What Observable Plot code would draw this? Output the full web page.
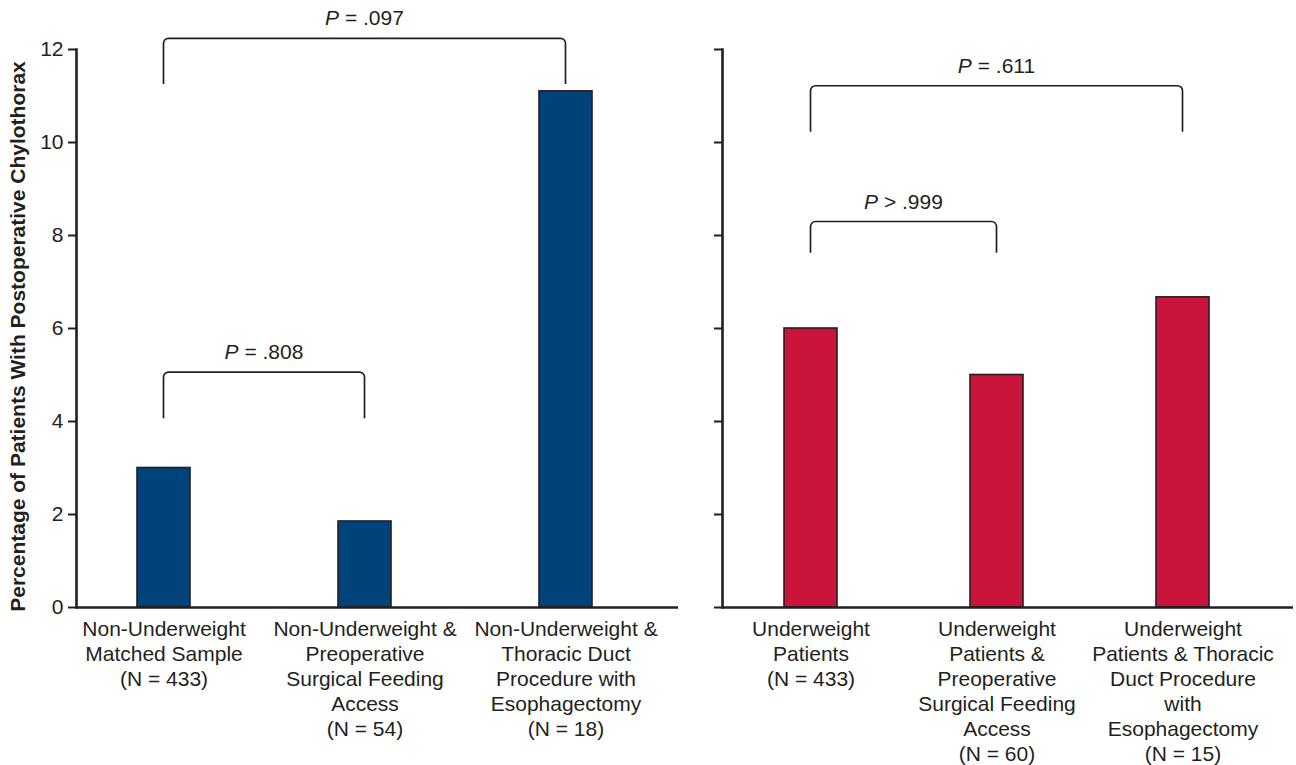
<!DOCTYPE html>
<html>
<head>
<meta charset="utf-8">
<script src="https://cdn.jsdelivr.net/npm/d3@7"></script>
<script src="https://cdn.jsdelivr.net/npm/@observablehq/plot@0.6"></script>
<style>
  html, body { margin: 0; padding: 0; background: white; }
  #fig { display: flex; flex-direction: row; width: 1296px; height: 765px; }
  #fig svg { max-width: none !important; }
</style>
</head>
<body>
<div id="fig"></div>
<script>
// ---- Data ----
const leftGroups = [
  "Non-Underweight\nMatched Sample\n(N = 433)",
  "Non-Underweight &\nPreoperative\nSurgical Feeding\nAccess\n(N = 54)",
  "Non-Underweight &\nThoracic Duct\nProcedure with\nEsophagectomy\n(N = 18)"
];
const leftValues = [3.0, 1.85, 11.1];

const rightGroups = [
  "Underweight\nPatients\n(N = 433)",
  "Underweight\nPatients &\nPreoperative\nSurgical Feeding\nAccess\n(N = 60)",
  "Underweight\nPatients & Thoracic\nDuct Procedure\nwith\nEsophagectomy\n(N = 15)"
];
const rightValues = [6.0, 5.0, 6.67];

const yTicks = [0, 2, 4, 6, 8, 10, 12];
const yTitle = "Percentage of Patients With Postoperative Chylothorax";

// brackets: [fromIndex, toIndex, bottom, top, italic symbol, rest of label]
const leftBrackets = [
  {from: 0, to: 2, bottom: 11.25, top: 12.23, sym: "P", rest: " = .097"},
  {from: 0, to: 1, bottom: 4.06, top: 5.05, sym: "P", rest: " = .808"}
];
const rightBrackets = [
  {from: 0, to: 2, bottom: 10.22, top: 11.21, sym: "P", rest: " = .611"},
  {from: 0, to: 1, bottom: 7.62, top: 8.29, sym: "P", rest: " > .999"}
];

const INK = "#231f20";
const FONT = "'Liberation Sans', Arial, Helvetica, sans-serif";

function bracketMark(brackets, groups) {
  return Plot.text(brackets, {
    x: d => groups[d.from], y: "top", text: d => d.sym + d.rest,
    render(index, scales, values, dimensions, context) {
      const x = scales.x, y = scales.y;
      const bw = x.bandwidth ? x.bandwidth() : 0;
      const g = d3.create("svg:g");
      for (const i of index) {
        const b = brackets[i];
        const x1 = x(groups[b.from]) + bw / 2;
        const x2 = x(groups[b.to]) + bw / 2;
        const yt = y(b.top), yb = y(b.bottom);
        const p = d3.path();
        p.moveTo(x1, yb);
        p.arcTo(x1, yt, x2, yt, 5);
        p.arcTo(x2, yt, x2, yb, 5);
        p.lineTo(x2, yb);
        g.append("path").attr("d", p.toString()).attr("fill", "none")
          .attr("stroke", INK).attr("stroke-width", 1.7);
        const t = g.append("text").attr("x", (x1 + x2) / 2).attr("y", yt - 13)
          .attr("text-anchor", "middle").attr("fill", INK)
          .attr("font-size", 21).attr("font-family", FONT);
        t.append("tspan").attr("font-style", "italic").text(b.sym);
        t.append("tspan").text(b.rest);
      }
      return g.node();
    }
  });
}

function panel({groups, values, color, width, marginLeft, marginRight, range, pI, pO, showTicks, brackets, title}) {
  const data = groups.map((g, i) => ({group: g, value: values[i]}));
  const marks = [
    Plot.barY(data, {x: "group", y: "value", fill: color, stroke: INK, strokeWidth: 1.6}),
    Plot.axisX({tickSize: 0, tickPadding: 11, fontSize: 21, lineHeight: 1.19, label: null, fill: INK}),
    Plot.axisY({ticks: yTicks, tickSize: 8, tickPadding: 5, strokeWidth: 2, stroke: INK, fontSize: 21, fill: INK,
                label: null, tickFormat: showTicks ? (d => String(d)) : (() => "")}),
    Plot.frame({anchor: "left", stroke: INK, strokeWidth: 2.6}),
    Plot.ruleY([0], {stroke: INK, strokeWidth: 2.6}),
    bracketMark(brackets, groups)
  ];
  if (title) {
    marks.push(Plot.text([title], {text: d => d, frameAnchor: "left", textAnchor: "middle", lineAnchor: "middle",
      rotate: -90, dx: -58, dy: 8, fontWeight: "bold", fontSize: 21, fill: INK}));
  }
  return Plot.plot({
    width, height: 765,
    marginLeft, marginRight, marginTop: 49, marginBottom: 158,
    x: {domain: groups, range, paddingInner: pI, paddingOuter: pO},
    y: {domain: [0, 12], range: [607, 49]},
    style: {fontFamily: FONT, fontSize: "21px", color: INK, background: "white", overflow: "visible"},
    marks
  });
}

const fig = document.getElementById("fig");
fig.append(panel({
  groups: leftGroups, values: leftValues, color: "#00437a",
  width: 690, marginLeft: 76, marginRight: 12,
  range: [61.75, 666.25], pI: 0.737, pO: 0.3685,
  showTicks: true, brackets: leftBrackets, title: yTitle
}));
fig.append(panel({
  groups: rightGroups, values: rightValues, color: "#cb143b",
  width: 606, marginLeft: 32, marginRight: 3,
  range: [26.6, 586.9], pI: 0.716, pO: 0.358,
  showTicks: false, brackets: rightBrackets
}));
</script>
</body>
</html>
